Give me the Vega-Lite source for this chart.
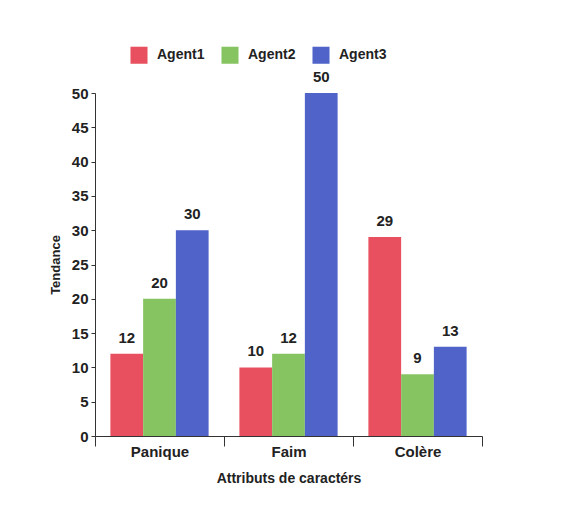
{
  "$schema": "https://vega.github.io/schema/vega-lite/v6.json",
  "autosize": "none",
  "width": 387,
  "height": 343,
  "padding": {"left": 95, "top": 93, "right": 93, "bottom": 69},
  "background": "white",
  "config": {
    "view": {"stroke": null},
    "font": "Liberation Sans"
  },
  "data": {
    "values": [
      {"cat": "Panique", "agent": "Agent1", "value": 12},
      {"cat": "Panique", "agent": "Agent2", "value": 20},
      {"cat": "Panique", "agent": "Agent3", "value": 30},
      {"cat": "Faim", "agent": "Agent1", "value": 10},
      {"cat": "Faim", "agent": "Agent2", "value": 12},
      {"cat": "Faim", "agent": "Agent3", "value": 50},
      {"cat": "Colère", "agent": "Agent1", "value": 29},
      {"cat": "Colère", "agent": "Agent2", "value": 9},
      {"cat": "Colère", "agent": "Agent3", "value": 13}
    ]
  },
  "encoding": {
    "x": {
      "field": "cat",
      "type": "nominal",
      "sort": ["Panique", "Faim", "Colère"],
      "scale": {"paddingInner": 0, "paddingOuter": 0},
      "axis": {
        "title": "Attributs de caractérs",
        "labelAngle": 0,
        "tickBand": "extent",
        "tickSize": 10,
        "tickColor": "#333",
        "domainColor": "#333",
        "labelFont": "Liberation Sans",
        "labelFontSize": 15,
        "labelFontWeight": "bold",
        "labelColor": "#222",
        "labelPadding": -2,
        "titleFont": "Liberation Sans",
        "titleFontSize": 14,
        "titleFontWeight": "bold",
        "titleColor": "#222",
        "titlePadding": 12
      }
    },
    "xOffset": {
      "field": "agent",
      "type": "nominal",
      "sort": ["Agent1", "Agent2", "Agent3"],
      "scale": {"paddingInner": 0, "paddingOuter": 0.47}
    },
    "y": {
      "field": "value",
      "type": "quantitative",
      "scale": {"domain": [0, 50], "nice": false},
      "axis": {
        "title": "Tendance",
        "values": [0, 5, 10, 15, 20, 25, 30, 35, 40, 45, 50],
        "grid": false,
        "tickSize": 4,
        "tickColor": "#333",
        "domainColor": "#333",
        "labelFont": "Liberation Sans",
        "labelFontSize": 15,
        "labelFontWeight": "bold",
        "labelColor": "#222",
        "labelPadding": 3,
        "titleFont": "Liberation Sans",
        "titleFontSize": 13,
        "titleFontWeight": "bold",
        "titleColor": "#222",
        "titlePadding": 9
      }
    }
  },
  "layer": [
    {
      "mark": {"type": "bar"},
      "encoding": {
        "color": {
          "field": "agent",
          "type": "nominal",
          "sort": ["Agent1", "Agent2", "Agent3"],
          "scale": {"domain": ["Agent1", "Agent2", "Agent3"], "range": ["#E8505F", "#86C462", "#4F63C8"]},
          "legend": {
            "title": null,
            "orient": "none",
            "direction": "horizontal",
            "legendX": 35,
            "legendY": -47,
            "symbolType": "square",
            "symbolSize": 290,
            "symbolStrokeWidth": 0,
            "symbolOpacity": 1,
            "labelFont": "Liberation Sans",
            "labelFontSize": 14,
            "labelFontWeight": "bold",
            "labelColor": "#222",
            "labelOffset": 9,
            "columnPadding": 16
          }
        }
      }
    },
    {
      "mark": {"type": "text", "baseline": "bottom", "dy": -8, "font": "Liberation Sans", "fontSize": 15, "fontWeight": "bold", "color": "#222"},
      "encoding": {
        "text": {"field": "value", "type": "quantitative"}
      }
    }
  ]
}
